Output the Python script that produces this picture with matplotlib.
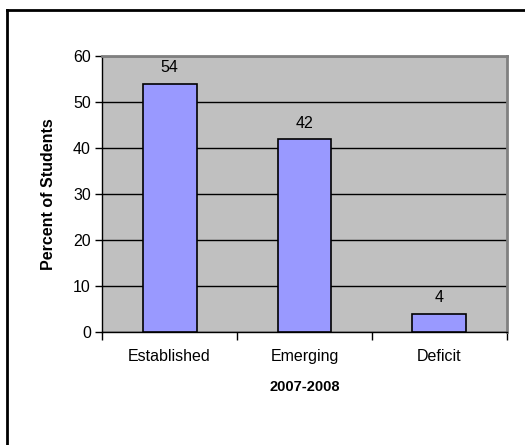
import numpy as np
import matplotlib.pyplot as plt
from matplotlib.lines import Line2D

categories = ['Established', 'Emerging', 'Deficit']
percents = [54, 42, 4]

plt.rcParams['font.family'] = ['Liberation Sans', 'DejaVu Sans']

fig = plt.figure(figsize=(5.25, 4.45), dpi=100)
ax = fig.add_axes([0.1943, 0.2539, 0.7714, 0.6203])
ax.set_facecolor('#c0c0c0')

x = np.arange(len(categories))
bars = ax.bar(x, percents, width=0.4, color='#9999ff', edgecolor='black',
              linewidth=1.2, zorder=3)
for xi, v in zip(x, percents):
    ax.text(xi, v + 1.8, str(v), ha='center', va='bottom', fontsize=11.5)

ax.set_xlim(-0.5, len(categories) - 0.5)
ax.set_ylim(0, 60)
ax.set_yticks(np.arange(0, 61, 10))
ax.yaxis.grid(True, color='black', linewidth=1, zorder=1)
ax.set_axisbelow(True)

# category ticks sit between groups
ax.set_xticks(np.arange(-0.5, len(categories), 1))
ax.set_xticklabels([])
ax.set_xticks(x, minor=True)
ax.set_xticklabels(categories, minor=True, fontsize=11.5)
ax.tick_params(axis='x', which='minor', length=0, pad=12)
ax.tick_params(axis='x', which='major', length=6, width=1, direction='out')
ax.tick_params(axis='y', length=5, width=1, direction='out', labelsize=11.5, pad=3)

for s in ['top', 'right']:
    ax.spines[s].set_color('#808080')
    ax.spines[s].set_linewidth(2)
for s in ['left', 'bottom']:
    ax.spines[s].set_color('black')
    ax.spines[s].set_linewidth(1)

ax.set_ylabel('Percent of Students', fontsize=11.5, fontweight='bold', labelpad=12)
ax.set_xlabel('2007-2008', fontsize=10.5, fontweight='bold', labelpad=12)

# outer chart border (only top and left edges visible in the frame)
fig.add_artist(Line2D([7 / 525, 7 / 525], [0, 1 - 10 / 445], color='black',
                      linewidth=2, transform=fig.transFigure))
fig.add_artist(Line2D([7 / 525, 1], [1 - 10 / 445, 1 - 10 / 445], color='black',
                      linewidth=2, transform=fig.transFigure))

fig.savefig('out.png', dpi=100)
